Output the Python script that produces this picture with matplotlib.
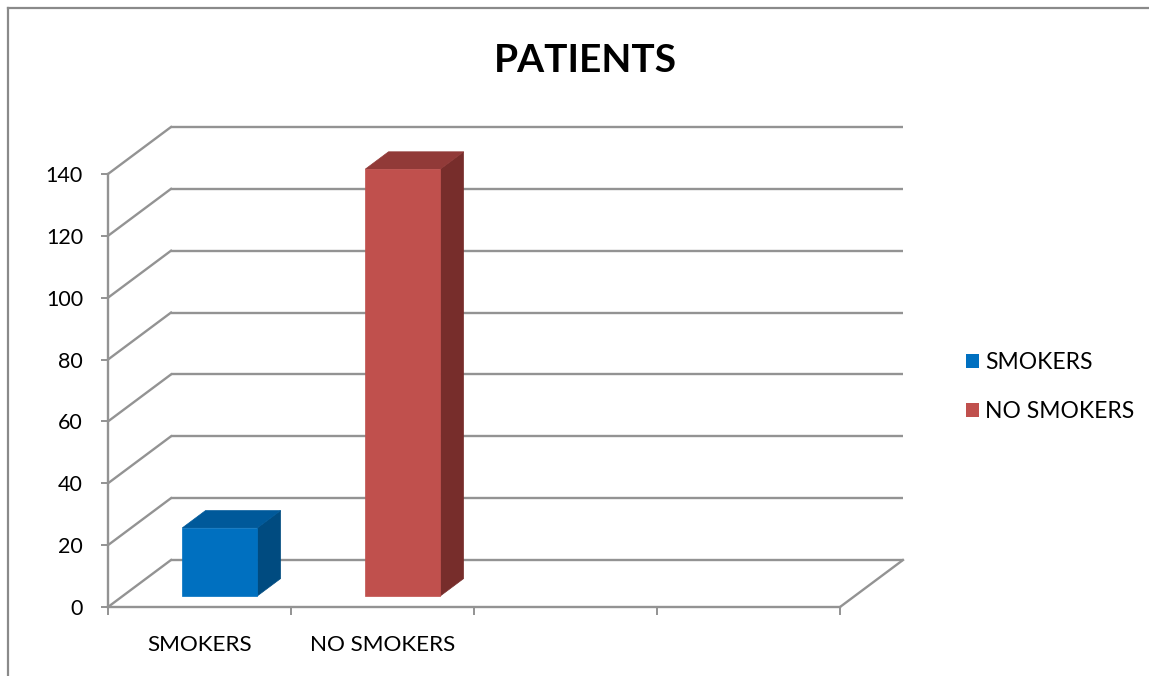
import matplotlib
matplotlib.use("Agg")
import matplotlib.pyplot as plt
from matplotlib.patches import Polygon, Patch
from matplotlib.lines import Line2D

plt.rcParams['font.family'] = ['Lato', 'DejaVu Sans']

# chart data
categories = ["SMOKERS", "NO SMOKERS"]
values = [22, 138]
n_slots = 4
y_ticks = [0, 20, 40, 60, 80, 100, 120, 140]
title = "PATIENTS"

# colours per series: front, top, side
front_colors = ["#0070C0", "#C0504D"]
top_colors = ["#00599A", "#913A38"]
side_colors = ["#004B80", "#772D2B"]
grid_color = "#939393"

W, H, DPI = 1149, 676, 100
fig = plt.figure(figsize=(W / DPI, H / DPI), dpi=DPI)
fig.patch.set_facecolor("white")

# outer chart border (top and left edges)
fig.add_artist(Line2D([8 / W, 1.0], [1 - 8 / H, 1 - 8 / H], transform=fig.transFigure,
                      color="#8a8a8a", lw=1.6))
fig.add_artist(Line2D([8 / W, 8 / W], [1 - 8 / H, 0.0], transform=fig.transFigure,
                      color="#8a8a8a", lw=1.6))

ax = fig.add_axes([108 / W, (H - 607) / H, 732 / W, 433 / H])
ax.set_xlim(0, n_slots)
ax.set_ylim(0, 140)
ax.set_facecolor("none")

# oblique depth of the plot box, in data units
DX = 63 / 183.0
DY = 47 / (433 / 140.0)

# back wall gridlines and left wall diagonals
for v in y_ticks:
    ax.plot([DX, n_slots + DX], [v + DY, v + DY], color=grid_color, lw=1.7,
            clip_on=False, zorder=1, solid_capstyle="butt")
    ax.plot([0, DX], [v, v + DY], color=grid_color, lw=1.7, clip_on=False, zorder=1)
# right floor edge
ax.plot([n_slots, n_slots + DX], [0, DY], color=grid_color, lw=1.7, clip_on=False, zorder=1)

# 3D bars
f0 = 0.234      # depth of bar front face
fd = 0.37       # bar depth
bx0, bx1 = 0.325, 0.735
for i, v in enumerate(values):
    x0, x1 = i + bx0, i + bx1
    ox, oy = f0 * DX, f0 * DY
    px, py = (f0 + fd) * DX, (f0 + fd) * DY
    front = [(x0 + ox, oy), (x1 + ox, oy), (x1 + ox, v + oy), (x0 + ox, v + oy)]
    top = [(x0 + ox, v + oy), (x1 + ox, v + oy), (x1 + px, v + py), (x0 + px, v + py)]
    side = [(x1 + ox, oy), (x1 + px, py), (x1 + px, v + py), (x1 + ox, v + oy)]
    for pts, c in ((side, side_colors[i]), (top, top_colors[i]), (front, front_colors[i])):
        ax.add_patch(Polygon(pts, closed=True, facecolor=c, edgecolor=c, lw=0.5,
                             clip_on=False, zorder=3))

# axes styling
for s in ("top", "right"):
    ax.spines[s].set_visible(False)
for s in ("left", "bottom"):
    ax.spines[s].set_color(grid_color)
    ax.spines[s].set_linewidth(1.7)
ax.set_yticks(y_ticks)
ax.set_yticklabels([str(t) for t in y_ticks])
ax.set_xticks(range(n_slots + 1))
ax.set_xticklabels([])
ax.set_xticks([i + 0.5 for i in range(len(categories))], minor=True)
ax.set_xticklabels(categories, minor=True)
ax.tick_params(axis="y", length=5, width=1.4, color=grid_color, labelsize=15.5, pad=13)
ax.tick_params(axis="x", which="major", length=6, width=1.4, color=grid_color)
ax.tick_params(axis="x", which="minor", length=0, labelsize=16.2, pad=20)

fig.text(585 / W, 1 - 61 / H, title, ha="center", va="center",
         fontsize=28, fontweight="bold")

handles = [Patch(facecolor=front_colors[i], edgecolor="none") for i in range(len(categories))]
fig.legend(handles, categories, loc="center left", bbox_to_anchor=(966 / W, 1 - 387 / H),
           frameon=False, fontsize=16.5, handlelength=0.55, handleheight=0.55,
           handletextpad=0.3, labelspacing=1.22, borderaxespad=0, borderpad=0)

fig.savefig("out.png", dpi=DPI)
